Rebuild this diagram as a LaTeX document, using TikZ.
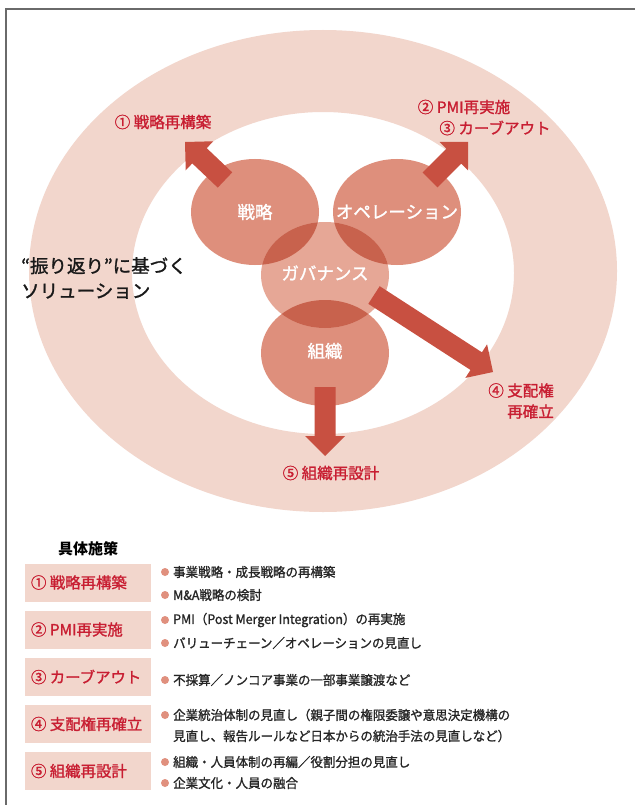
\documentclass[tikz,border=0pt]{standalone}
\usepackage{fontspec}
\setmainfont{Noto Sans CJK JP}
\newfontfamily\medjp{Noto Sans CJK JP}[FakeBold=1.4]
\newfontfamily\bodyjp{Noto Sans CJK JP}[FakeBold=1.2, FakeStretch=0.96]
\usetikzlibrary{calc,shapes.geometric}
\definecolor{ringpink}{HTML}{F2D6CC}
\definecolor{circcol}{HTML}{DE8F7C}
\definecolor{govcol}{HTML}{E6A796}
\definecolor{lapcol}{HTML}{C8624D}
\definecolor{arrcol}{HTML}{C85041}
\definecolor{labcol}{HTML}{C81E32}
\definecolor{dotcol}{HTML}{E0907E}
\definecolor{framecol}{HTML}{6A6A6A}
\newcommand\fsz[2]{\fontsize{#1}{#2}\selectfont}
\newcommand\blockarrow[3]{% #1 start, #2 tip, #3 name of head base
  \coordinate (#3) at ($(#2)!20pt!(#1)$);
  \fill[arrcol] ($(#1)!10.5pt!90:(#2)$) -- ($(#3)!10.5pt!90:(#2)$) -- ($(#3)!20pt!90:(#2)$) -- (#2)
    -- ($(#3)!20pt!-90:(#2)$) -- ($(#3)!10.5pt!-90:(#2)$) -- ($(#1)!10.5pt!-90:(#2)$) -- cycle;
}
\tikzset{
  blob/.style={ellipse, minimum width=128pt, minimum height=106pt, inner sep=0pt, draw=none},
  blobtext/.style={text=white, font=\medjp\fsz{17.5}{20}, inner sep=0pt},
  lbl/.style={text=labcol, font=\medjp\fsz{15.5}{21}, inner sep=0pt},
  boxbg/.style={fill=ringpink, minimum width=126pt, minimum height=38pt, inner sep=0pt},
  boxlbl/.style={anchor=west, inner sep=0pt, text=labcol, font=\medjp\fsz{15.4}{18}},
  bul/.style={circle, fill=dotcol, minimum size=8pt, inner sep=0pt},
  bultext/.style={anchor=west, inner sep=0pt, font=\bodyjp\fsz{13}{15}, text=black!85}
}
\begin{document}
\begin{tikzpicture}[x=1pt,y=-1pt]
\useasboundingbox (0,0) rectangle (635,805);
\fill[white] (0,0) rectangle (635,805);
% frame
\draw[framecol, line width=1.5pt] (6,805) -- (6,9) -- (635,9);
% ring
\fill[ringpink, even odd rule] (323,271) ellipse [x radius=294, y radius=241]
  (323,273) ellipse [x radius=191, y radius=161];
% circles
\node[blob, fill=circcol] (s) at (255,212) {};
\node[blob, fill=circcol] (o) at (397,212) {};
\node[blob, fill=circcol] (k) at (325,353) {};
\node[blob, fill=govcol] (g) at (325,275) {};
\begin{scope}
  \clip (255,212) ellipse [x radius=64, y radius=53];
  \fill[lapcol] (325,275) ellipse [x radius=64, y radius=53];
\end{scope}
\begin{scope}
  \clip (397,212) ellipse [x radius=64, y radius=53];
  \fill[lapcol] (325,275) ellipse [x radius=64, y radius=53];
\end{scope}
\begin{scope}
  \clip (325,353) ellipse [x radius=64, y radius=53];
  \fill[lapcol] (325,275) ellipse [x radius=64, y radius=53];
\end{scope}
\node[blobtext] at (s.center) {戦略};
\node[blobtext] at (o.center) {オペレーション};
\node[blobtext] at ([yshift=2pt]g.center) {ガバナンス};
\node[blobtext] at ([yshift=2pt]k.center) {組織};
% arrows
\coordinate (a1s) at (225,180); \coordinate (a1t) at (185,142);
\coordinate (a2s) at (430,180); \coordinate (a2t) at (468,142);
\coordinate (a4s) at (374,295); \coordinate (a4t) at (493,372);
\coordinate (a5s) at (325,387); \coordinate (a5t) at (325,456);
\blockarrow{a1s}{a1t}{a1h}
\blockarrow{a2s}{a2t}{a2h}
\blockarrow{a4s}{a4t}{a4h}
\blockarrow{a5s}{a5t}{a5h}
% labels
\node[lbl] (l1) at (163,122) {① 戦略再構築};
\node[lbl] (l2) at (464,107) {② PMI再実施};
\node[lbl] (l3) at (495,128) {③ カーブアウト};
\node[lbl, align=right, anchor=east] (l4) at (554,401) {④ 支配権\\再確立};
\node[lbl] (l5) at (331,473) {⑤ 組織再設計};
\node[anchor=west, align=left, inner sep=0pt, font=\medjp\fsz{18.5}{25}, text=black!90] (lead) at (21,278) {“振り返り”に基づく\\ソリューション};
% table
\node[inner sep=0pt, font=\bfseries\fsz{15}{18}] (title) at (88,549) {具体施策};
\node[boxbg] (b1) at (88,582.5) {};
\node[boxbg] (b2) at (88,629.5) {};
\node[boxbg] (b3) at (88,677) {};
\node[boxbg] (b4) at (88,724) {};
\node[boxbg] (b5) at (88,771) {};
\node[boxlbl] (bl1) at ([xshift=6pt]b1.west) {① 戦略再構築};
\node[boxlbl] (bl2) at ([xshift=6pt]b2.west) {② PMI再実施};
\node[boxlbl] (bl3) at ([xshift=6pt]b3.west) {③ カーブアウト};
\node[boxlbl] (bl4) at ([xshift=6pt]b4.west) {④ 支配権再確立};
\node[boxlbl] (bl5) at ([xshift=6pt]b5.west) {⑤ 組織再設計};
\node[bul] (d11) at (165,572) {}; \node[bultext] (t11) at (173,572) {事業戦略・成長戦略の再構築};
\node[bul] (d12) at (165,595) {}; \node[bultext] (t12) at (173,595) {M\&A戦略の検討};
\node[bul] (d21) at (165,620) {}; \node[bultext] (t21) at (173,620) {PMI（Post Merger Integration）の再実施};
\node[bul] (d22) at (165,643) {}; \node[bultext] (t22) at (173,643) {バリューチェーン／オペレーションの見直し};
\node[bul] (d31) at (165,680) {}; \node[bultext] (t31) at (173,680) {不採算／ノンコア事業の一部事業譲渡など};
\node[bul] (d41) at (165,715) {}; \node[bultext] (t41) at (173,715) {企業統治体制の見直し（親子間の権限委譲や意思決定機構の};
\node[bultext] (t42) at (173,736) {見直し、報告ルールなど日本からの統治手法の見直しなど）};
\node[bul] (d51) at (165,762) {}; \node[bultext] (t51) at (173,762) {組織・人員体制の再編／役割分担の見直し};
\node[bul] (d52) at (165,783) {}; \node[bultext] (t52) at (173,783) {企業文化・人員の融合};
\end{tikzpicture}
\end{document}
